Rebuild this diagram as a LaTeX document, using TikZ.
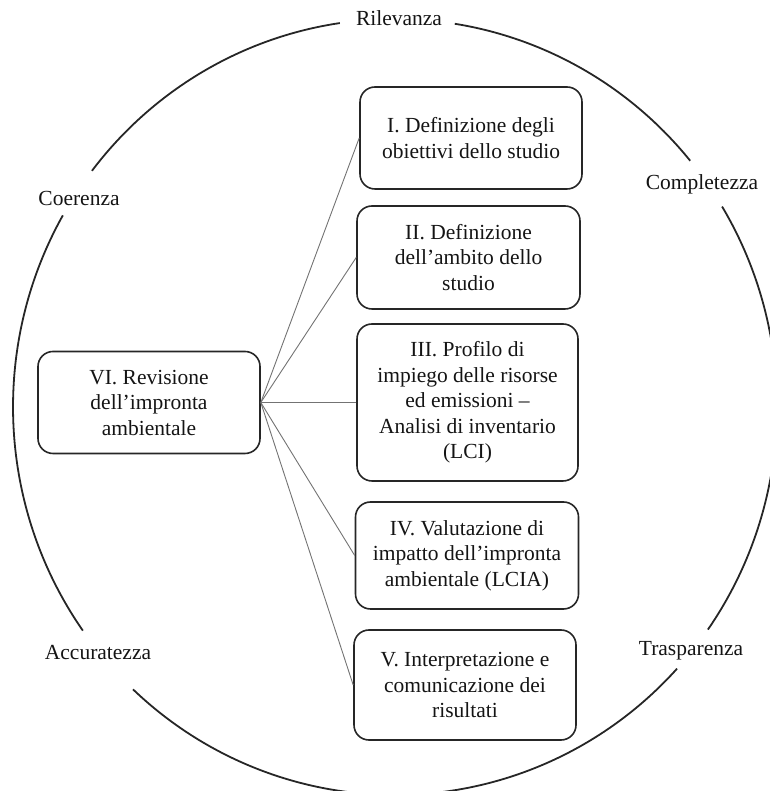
\documentclass[tikz,border=0pt]{standalone}
\usepackage{fontspec}
\setmainfont{Liberation Serif}
\begin{document}
\begin{tikzpicture}[x=1pt,y=1pt,
  txt/.style={font=\fontsize{21.5}{25.5}\selectfont, text=black!92},
  stage/.style={txt, draw=black!85, line width=1.6pt, rounded corners=15pt,
    minimum width=222pt, minimum height=102pt, align=center, inner sep=0pt},
  quality/.style={txt, inner sep=0pt},
  link/.style={draw=black!55, line width=0.9pt},
  rim/.style={draw=black!85, line width=1.8pt}]
\useasboundingbox (0,0) rectangle (769,791);

% outer ring, broken where the quality criteria sit
\coordinate (c) at (395,384);
\draw[rim] (c) ++(39.4:382 and 388) arc[start angle=39.4, end angle=81, x radius=382, y radius=388];
\draw[rim] (c) ++(98.3:382 and 388) arc[start angle=98.3, end angle=142.5, x radius=382, y radius=388];
\draw[rim] (c) ++(150.4:382 and 388) arc[start angle=150.4, end angle=215.2, x radius=382, y radius=388];
\draw[rim] (c) ++(226.7:382 and 388) arc[start angle=226.7, end angle=317.6, x radius=382, y radius=388];
\draw[rim] (c) ++(-35:382 and 388) arc[start angle=-35, end angle=31.1, x radius=382, y radius=388];

% quality criteria
\node[quality] (ril) at (399,773) {Rilevanza};
\node[quality] (coe) at (79,593) {Coerenza};
\node[quality] (com) at (702,607) {Completezza};
\node[quality] (acc) at (98,138) {Accuratezza};
\node[quality] (tra) at (691,140) {Trasparenza};

% phases
\node[stage] (s1) at (471,653) {I. Definizione degli\\obiettivi dello studio};
\node[stage, minimum width=223pt, minimum height=103pt] (s2) at (468.5,533.5) {II. Definizione\\dell’ambito dello\\studio};
\node[stage, minimum width=221pt, minimum height=157pt] (s3) at (467.5,388.5) {III. Profilo di\\impiego delle risorse\\ed emissioni –\\Analisi di inventario\\(LCI)};
\node[stage, minimum width=223pt, minimum height=107pt] (s4) at (467,235.5) {IV. Valutazione di\\impatto dell’impronta\\ambientale (LCIA)};
\node[stage, minimum width=222pt, minimum height=110pt] (s5) at (465,106) {V. Interpretazione e\\comunicazione dei\\risultati};
\node[stage] (s6) at (149,388.5) {VI. Revisione\\dell’impronta\\ambientale};

% review links
\foreach \t in {s1,s2,s3,s4,s5}
  \draw[link] (s6.east) -- (\t.west);
\end{tikzpicture}
\end{document}
